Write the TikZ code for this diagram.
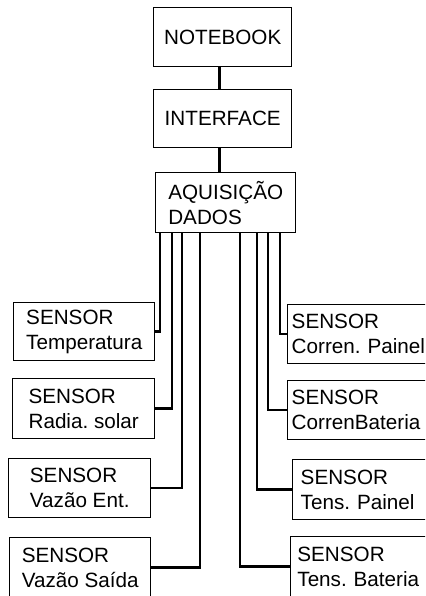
\documentclass[tikz,border=0pt]{standalone}
\usepackage{fontspec}
\setmainfont{Liberation Sans}
\usetikzlibrary{calc}
\frenchspacing

\tikzset{
  box/.style={draw, line width=1.1pt, anchor=north west, inner sep=0pt,
              font=\fontsize{15.5}{19}\selectfont, align=left},
  wire/.style={line width=2pt}
}

\begin{document}
\begin{tikzpicture}[x=0.75pt, y=-0.75pt]
  \clip (0,0) rectangle (425,596);
  % upper chain
  \node [box, minimum width=103.5pt, minimum height=44pt] (note) at (153,7) {NOTEBOOK};
  \node [box, minimum width=103.5pt, minimum height=43.5pt] (iface) at (153,89) {INTERFACE};
  \node [box, minimum width=105pt, minimum height=45pt] (aquis) at (155,172) {AQUISIÇÃO\\DADOS};
  \coordinate (nbot) at ($(note.south)+(-3,0)$);
  \coordinate (ibot) at ($(iface.south)+(-3,0)$);
  \draw [wire] (nbot) -- (nbot |- iface.north);
  \draw [wire] (ibot) -- (ibot |- aquis.north);
  % sensors on the left
  \node [box, minimum width=105.75pt, minimum height=43.5pt] (temp) at (13,302) {SENSOR\\Temperatura};
  \node [box, minimum width=106.5pt, minimum height=45pt] (rad) at (12,378) {SENSOR\\Radia. solar};
  \node [box, minimum width=106.5pt, minimum height=44pt] (vent) at (8,458) {SENSOR\\Vazão Ent.};
  \node [box, minimum width=105.75pt, minimum height=45pt] (vsai) at (9,537) {SENSOR\\Vazão Saída};
  % sensors on the right
  \node [box, text width=100pt, inner xsep=3pt, minimum height=44pt] (cpai) at (287,304) {SENSOR\\Corren. Painel};
  \node [box, text width=100pt, inner xsep=3pt, minimum height=44pt] (cbat) at (287,380) {SENSOR\\CorrenBateria};
  \node [box, text width=100pt, inner xsep=6pt, minimum height=45pt] (tpai) at (292,459) {SENSOR\\Tens. Painel};
  \node [box, text width=100pt, inner xsep=5pt, minimum height=45pt] (tbat) at (290,536) {SENSOR\\Tens. Bateria};
  % wires from the acquisition box
  \draw [wire] ($(aquis.south west)+(5,0)$) |- (temp.east);
  \draw [wire] ($(aquis.south west)+(17,0)$) |- (rad.east);
  \draw [wire] ($(aquis.south west)+(27,0)$) |- (vent.east);
  \draw [wire] ($(aquis.south west)+(45,0)$) |- (vsai.east);
  \draw [wire] ($(aquis.south west)+(125,0)$) |- (cpai.west);
  \draw [wire] ($(aquis.south west)+(113,0)$) |- (cbat.west);
  \draw [wire] ($(aquis.south west)+(102,0)$) |- (tpai.west);
  \draw [wire] ($(aquis.south west)+(85,0)$) |- (tbat.west);
\end{tikzpicture}
\end{document}
